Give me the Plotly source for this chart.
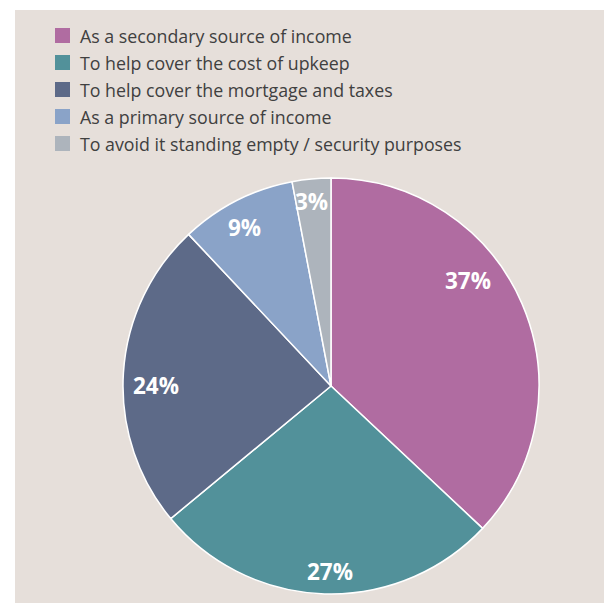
import math
import plotly.graph_objects as go

# Reasons for letting out the property (share of respondents, %)
labels = [
    "As a secondary source of income",
    "To help cover the cost of upkeep",
    "To help cover the mortgage and taxes",
    "As a primary source of income",
    "To avoid it standing empty / security purposes",
]
values = [37, 27, 24, 9, 3]
colors = ["#b06ca1", "#52919a", "#5d6a88", "#8aa3c8", "#adb4bc"]

# Placement of the percentage labels inside the pie
# (angle counter-clockwise from 3 o'clock, radius as a fraction of the pie radius)
label_angle_deg = [37.6, -90.3, 179.7, 118.7, 96.0]
label_radius_frac = [0.83, 0.89, 0.84, 0.87, 0.89]

W, H = 604, 603
panel_bg = "#e6dfda"

# Pie geometry in pixels
cx, cy, r = 331, 386, 208

fig = go.Figure(
    go.Pie(
        labels=labels,
        values=values,
        sort=False,
        direction="clockwise",
        rotation=0,
        marker=dict(colors=colors, line=dict(color="white", width=1.5)),
        textinfo="none",
        hoverinfo="label+percent",
        showlegend=False,
        domain=dict(x=[(cx - r) / W, (cx + r) / W], y=[1 - (cy + r) / H, 1 - (cy - r) / H]),
    )
)

annotations = []
for v, ang, rf in zip(values, label_angle_deg, label_radius_frac):
    a = math.radians(ang)
    px = cx + rf * r * math.cos(a)
    py = cy - rf * r * math.sin(a)
    annotations.append(dict(
        x=px / W, y=1 - py / H, xref="paper", yref="paper",
        text=f"{v}%", showarrow=False, xanchor="center", yanchor="middle",
        font=dict(family="Open Sans", size=22.5, color="white", weight="bold"),
    ))

# Legend: coloured squares with category names
shapes = [
    dict(type="rect", xref="paper", yref="paper", x0=0, x1=15 / W, y0=0, y1=1,
         fillcolor="white", line=dict(width=0), layer="below"),
    dict(type="rect", xref="paper", yref="paper", x0=0, x1=1, y0=1 - 10 / H, y1=1,
         fillcolor="white", line=dict(width=0), layer="below"),
]
row0, row_gap, sq = 35.5, 27, 15
for i, (lab, col) in enumerate(zip(labels, colors)):
    yc = row0 + i * row_gap
    shapes.append(dict(
        type="rect", xref="paper", yref="paper",
        x0=55 / W, x1=(55 + sq) / W, y0=1 - (yc + sq / 2) / H, y1=1 - (yc - sq / 2) / H,
        fillcolor=col, line=dict(width=0),
    ))
    annotations.append(dict(
        x=78 / W, y=1 - (yc + 0.5) / H, xref="paper", yref="paper",
        text=lab, showarrow=False, xanchor="left", yanchor="middle",
        font=dict(family="Open Sans", size=17.8, color="#404040"),
    ))

fig.update_layout(
    width=W,
    height=H,
    margin=dict(l=0, r=0, t=0, b=0),
    paper_bgcolor=panel_bg,
    plot_bgcolor=panel_bg,
    shapes=shapes,
    annotations=annotations,
    showlegend=False,
)

fig.write_html("out.html")
